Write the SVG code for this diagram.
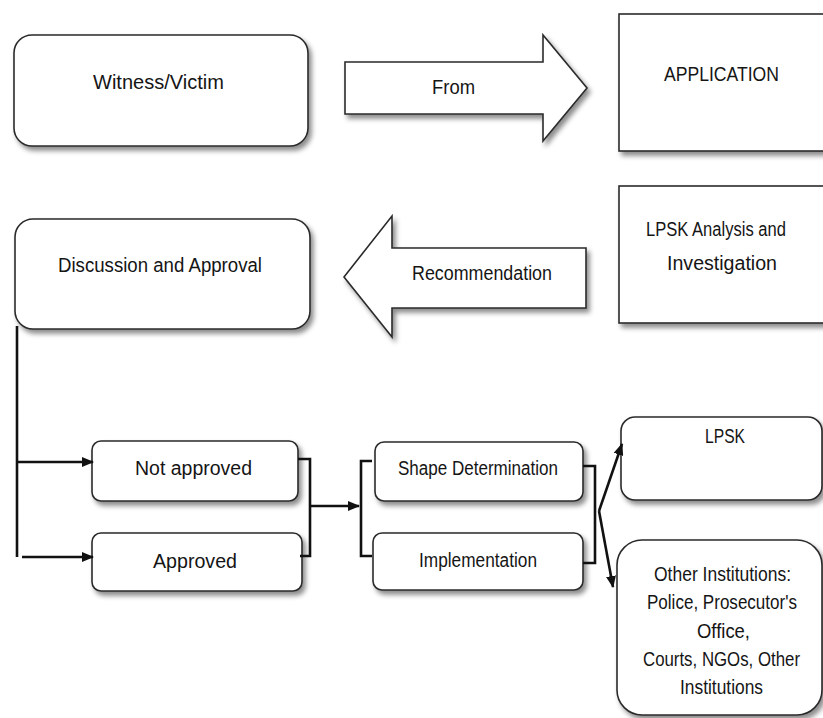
<svg xmlns="http://www.w3.org/2000/svg" width="823" height="718" viewBox="0 0 823 718">
<style>
.box{fill:#fff;stroke:#2a2a2a;stroke-width:1.6;filter:url(#sh)}
.t{font-family:"Liberation Sans",Arial,sans-serif;font-size:19.5px;fill:#151515;text-anchor:middle}
.c{fill:none;stroke:#111;stroke-width:2.6;stroke-linejoin:miter}
</style>
<defs>
<filter id="sh" x="-10%" y="-10%" width="130%" height="140%">
<feDropShadow dx="3" dy="4" stdDeviation="2.5" flood-color="#000" flood-opacity="0.45"/>
</filter>
<marker id="ah" markerUnits="userSpaceOnUse" markerWidth="12" markerHeight="10" refX="11" refY="5" orient="auto">
<path d="M0,0 L12,5 L0,10 Z" fill="#111"/>
</marker>
</defs>
<rect width="823" height="718" fill="#fff"/>
<g id="witness"><rect class="box" x="14" y="35" width="294" height="111" rx="18"/><text class="t" x="158.5" y="89" textLength="131" lengthAdjust="spacingAndGlyphs">Witness/Victim</text></g>
<g id="from"><polygon class="box" points="345,62 543,62 543,35 587,88 543,141 543,114 345,114"/><text class="t" x="453.5" y="94" textLength="43" lengthAdjust="spacingAndGlyphs">From</text></g>
<g id="application"><rect class="box" x="619" y="14" width="215" height="137"/><text class="t" x="721.5" y="81" textLength="115" lengthAdjust="spacingAndGlyphs">APPLICATION</text></g>
<g id="analysis"><rect class="box" x="619" y="186" width="215" height="137"/><text class="t" x="716" y="236" textLength="140" lengthAdjust="spacingAndGlyphs">LPSK Analysis and</text><text class="t" x="722" y="270" textLength="110" lengthAdjust="spacingAndGlyphs">Investigation</text></g>
<g id="recommendation"><polygon class="box" points="586,248 392,248 392,216 344,277 392,337 392,308 586,308"/><text class="t" x="482" y="280" textLength="140" lengthAdjust="spacingAndGlyphs">Recommendation</text></g>
<g id="discussion"><rect class="box" x="15" y="219" width="295" height="110" rx="18"/><text class="t" x="160" y="272" textLength="204" lengthAdjust="spacingAndGlyphs">Discussion and Approval</text></g>
<g id="notapproved"><rect class="box" x="92" y="441" width="206" height="60" rx="9"/><text class="t" x="193.5" y="475" textLength="117" lengthAdjust="spacingAndGlyphs">Not approved</text></g>
<g id="approved"><rect class="box" x="92" y="533" width="210" height="58" rx="9"/><text class="t" x="195" y="568" textLength="84" lengthAdjust="spacingAndGlyphs">Approved</text></g>
<g id="shape"><rect class="box" x="375" y="442" width="208" height="59" rx="9"/><text class="t" x="478" y="475" textLength="160" lengthAdjust="spacingAndGlyphs">Shape Determination</text></g>
<g id="implementation"><rect class="box" x="373" y="533" width="210" height="57" rx="9"/><text class="t" x="478" y="567" textLength="118" lengthAdjust="spacingAndGlyphs">Implementation</text></g>
<g id="lpsk"><rect class="box" x="621" y="417" width="201" height="83" rx="14"/><text class="t" x="725" y="443" textLength="40" lengthAdjust="spacingAndGlyphs">LPSK</text></g>
<g id="other"><rect class="box" x="617" y="540" width="205" height="175" rx="25"/>
<text class="t" x="722.5" y="581" textLength="137" lengthAdjust="spacingAndGlyphs">Other Institutions:</text>
<text class="t" x="722" y="609" textLength="150" lengthAdjust="spacingAndGlyphs">Police, Prosecutor's</text>
<text class="t" x="723.5" y="638" textLength="53" lengthAdjust="spacingAndGlyphs">Office,</text>
<text class="t" x="721.5" y="666" textLength="157" lengthAdjust="spacingAndGlyphs">Courts, NGOs, Other</text>
<text class="t" x="721.5" y="694" textLength="83" lengthAdjust="spacingAndGlyphs">Institutions</text></g>
<g id="connectors">
<path class="c" d="M17,326 V557"/>
<path class="c" d="M17,462 H93" marker-end="url(#ah)"/>
<path class="c" d="M22,557 H93" marker-end="url(#ah)"/>
<path class="c" d="M298,459 H310 V556 H300"/>
<path class="c" d="M310,506 H359" stroke-width="4.5" marker-end="url(#ah)"/>
<path class="c" d="M372,461 H361 V556 H372"/>
<path class="c" d="M583,466 H595 V563 H583"/>
<path class="c" d="M599,511 L622,444" marker-end="url(#ah)"/>
<path class="c" d="M599,511 L613,587" marker-end="url(#ah)"/>
</g>
</svg>
